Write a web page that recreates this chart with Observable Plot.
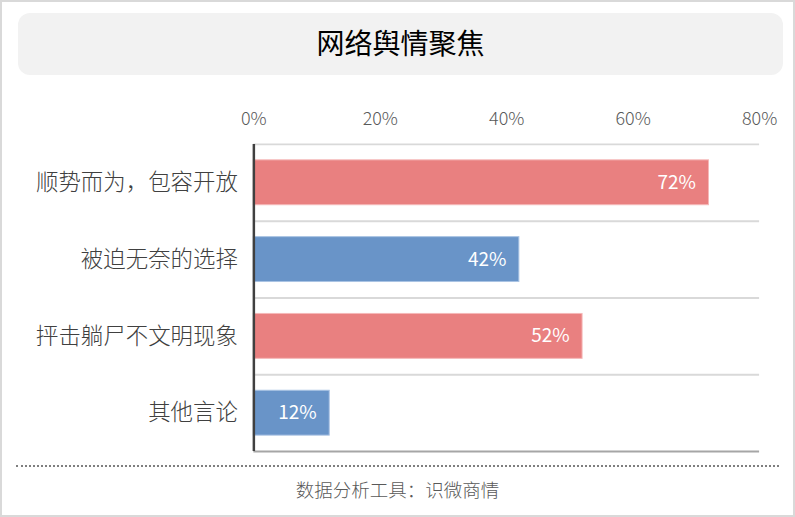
<!DOCTYPE html>
<html>
<head>
<meta charset="utf-8">
<script src="https://cdn.jsdelivr.net/npm/d3@7"></script>
<script src="https://cdn.jsdelivr.net/npm/@observablehq/plot@0.6"></script>
<style>
  html, body { margin: 0; padding: 0; background: #fff; }
  #frame {
    position: relative; width: 795px; height: 517px; box-sizing: border-box;
    border: 2px solid #d9d9d9; background: #fff; overflow: hidden;
    font-family: "Noto Sans CJK SC", "Noto Sans", sans-serif;
  }
  #title {
    position: absolute; left: 16px; top: 11px; width: 765px; height: 62px;
    background: #f2f2f2; border-radius: 12px; box-sizing: border-box; padding-bottom: 4px;
    display: flex; align-items: center; justify-content: center;
    font-size: 28px; color: #000;
  }
  #chart { position: absolute; left: -2px; top: 93px; }
  #dots {
    position: absolute; left: 14px; top: 463px; width: 763px; height: 0;
    border-top: 2px dotted #7f7f7f;
  }
  #caption {
    position: absolute; left: 0; top: 474px; width: 791px; text-align: center;
    font-size: 18.5px; color: #595959; font-weight: 300;
  }
</style>
</head>
<body>
<div id="frame">
  <div id="title">网络舆情聚焦</div>
  <div id="chart"></div>
  <div id="dots"></div>
  <div id="caption">数据分析工具：识微商情</div>
</div>
<script>
const categories = ["顺势而为，包容开放", "被迫无奈的选择", "抨击躺尸不文明现象", "其他言论"];
const values = [72, 42, 52, 12];
const groups = ["A", "B", "A", "B"];
const xTicks = [0, 20, 40, 60, 80];

const data = categories.map((c, i) => ({category: c, value: values[i], group: groups[i]}));

const W = 795, H = 365;
const mTop = 49, mBottom = 8, mLeft = 254, mRight = 34;
const step = (H - mTop - mBottom) / categories.length;

const chart = Plot.plot({
  width: W,
  height: H,
  marginTop: mTop,
  marginBottom: mBottom,
  marginLeft: mLeft,
  marginRight: mRight,
  style: {fontFamily: '"Noto Sans CJK SC", "Noto Sans", sans-serif', background: "transparent", overflow: "visible"},
  x: {domain: [0, 80], axis: null},
  y: {domain: categories, paddingInner: 0.42, paddingOuter: 0.21, axis: null},
  color: {domain: ["A", "B"], range: ["#e98080", "#6994c8"]},
  marks: [
    Plot.ruleY(categories, {y: d => d, dy: -step / 2, stroke: "#d9d9d9", strokeWidth: 2, x1: 0, x2: 80}),
    Plot.ruleY([categories[categories.length - 1]], {y: d => d, dy: step / 2, stroke: "#a6a6a6", strokeWidth: 2, x1: 0, x2: 80}),
    Plot.barX(data, {
      y: "category", x: "value", fill: "group",
      stroke: d => d.group === "A" ? "#f5b8b8" : "#a9c3e3", strokeWidth: 1
    }),
    Plot.text(data, {
      y: "category", x: "value", text: d => d.value + "%",
      textAnchor: "end", dx: -13, fill: "#fff", fontSize: 19
    }),
    Plot.ruleX([0], {stroke: "#404040", strokeWidth: 2.5}),
    Plot.axisX(xTicks, {
      anchor: "top", tickSize: 0, tickPadding: 19, label: null,
      tickFormat: d => d + "%", fontSize: 18, fill: "#595959", fontWeight: 300
    }),
    Plot.axisY({
      anchor: "left", tickSize: 0, tickPadding: 16, fontSize: 22.5, fill: "#404040", fontWeight: 300, label: null
    })
  ]
});
document.getElementById("chart").appendChild(chart);
</script>
</body>
</html>
